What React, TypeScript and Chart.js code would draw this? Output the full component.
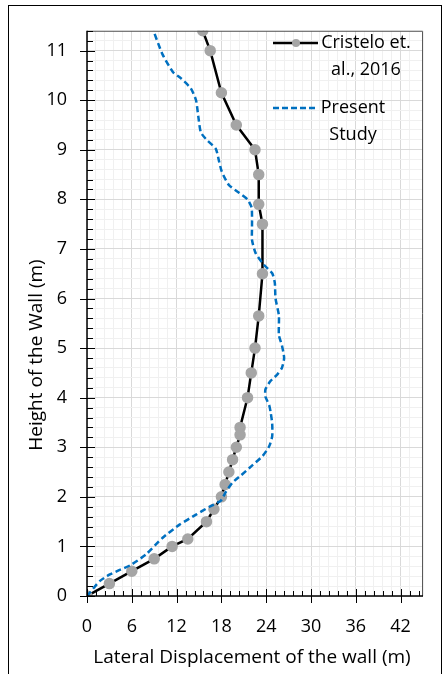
import React, { useEffect, useRef } from "react";
import { Chart, registerables } from "chart.js";

Chart.register(...registerables);

// Cristelo et al., 2016 — measured profile
const cristeloHeight = [0, 0.25, 0.5, 0.75, 1.0, 1.15, 1.5, 1.75, 2.0, 2.25, 2.5, 2.75, 3.0, 3.25, 3.4, 4.0, 4.5, 5.0, 5.65, 6.5, 7.5, 7.9, 8.5, 9.0, 9.5, 10.15, 11.0, 11.4];
const cristeloDisp = [0, 3, 6, 9, 11.4, 13.5, 16, 17, 18, 18.5, 19, 19.5, 20, 20.5, 20.5, 21.5, 22, 22.5, 23, 23.5, 23.5, 23, 23, 22.5, 20, 18, 16.5, 15.5];

// Present study — computed profile
const presentHeight = [0, 0.3, 0.43, 0.52, 0.62, 0.84, 1.17, 1.44, 1.64, 1.8, 1.92, 2.1, 2.29, 2.43, 2.63, 2.82, 3.02, 3.22, 3.48, 3.7, 3.85, 4.02, 4.17, 4.34, 4.47, 4.6, 4.8, 5.06, 5.26, 5.66, 6.0, 6.32, 6.51, 6.68, 6.91, 7.18, 7.44, 7.83, 8.0, 8.13, 8.29, 8.56, 8.76, 9.02, 9.19, 9.35, 9.68, 10.0, 10.24, 10.44, 10.57, 10.93, 11.4];
const presentDisp = [0, 1.7, 3.0, 4.3, 5.8, 7.9, 10.1, 12.4, 14.6, 16.4, 17.9, 18.6, 19.5, 20.6, 22.1, 23.5, 24.4, 24.8, 24.8, 24.6, 24.4, 23.9, 23.9, 24.6, 25.5, 26.1, 26.4, 26.1, 25.7, 25.7, 25.25, 25.15, 24.8, 23.7, 22.6, 22.1, 22.1, 22.05, 21.5, 20.4, 19.0, 18.05, 17.7, 17.25, 16.1, 15.25, 14.9, 14.6, 13.9, 12.6, 11.5, 10.1, 8.9];

const xTitle = "Lateral Displacement of the wall (m)";
const yTitle = "Height of the Wall (m)";
const legendLines = [["Cristelo et.", "al., 2016"], ["Present", "Study"]];

const FONT = '"Open Sans", sans-serif';
const BLUE = "#0070c0";
const MARKER = "#a5a5a5";

const toPoints = (xs: number[], ys: number[]) => xs.map((x, i) => ({ x, y: ys[i] }));
const near = (v: number, step: number) => Math.abs(v / step - Math.round(v / step)) < 1e-6;

// Axes, tick marks, titles and the in-plot legend
const decorations = {
  id: "decorations",
  afterDraw(chart: any) {
    const { ctx, chartArea: a, scales } = chart;
    const xs = scales.x;
    const ys = scales.y;
    ctx.save();

    // plot frame (top / right)
    ctx.strokeStyle = "#595959";
    ctx.lineWidth = 1;
    ctx.beginPath();
    ctx.moveTo(a.left, a.top + 0.5);
    ctx.lineTo(a.right - 0.5, a.top + 0.5);
    ctx.lineTo(a.right - 0.5, a.bottom);
    ctx.stroke();

    // axis lines
    ctx.strokeStyle = "#000";
    ctx.lineWidth = 1.5;
    ctx.beginPath();
    ctx.moveTo(a.left, a.top);
    ctx.lineTo(a.left, a.bottom);
    ctx.lineTo(a.right, a.bottom);
    ctx.stroke();

    // tick marks
    ctx.lineWidth = 1;
    ctx.beginPath();
    for (let k = 0; k <= 57; k++) {
      const v = k * 0.2;
      const py = Math.round(ys.getPixelForValue(v)) + 0.5;
      if (k % 5 === 0) {
        ctx.moveTo(a.left - 7, py);
        ctx.lineTo(a.left + 8, py);
      } else {
        ctx.moveTo(a.left, py);
        ctx.lineTo(a.left + 6, py);
      }
    }
    for (let k = 0; k <= 37; k++) {
      const v = k * 1.2;
      const px = Math.round(xs.getPixelForValue(v)) + 0.5;
      if (k % 5 === 0) {
        ctx.moveTo(px, a.bottom - 7);
        ctx.lineTo(px, a.bottom + 7);
      } else {
        ctx.moveTo(px, a.bottom - 5);
        ctx.lineTo(px, a.bottom);
      }
    }
    ctx.stroke();

    // axis titles
    ctx.fillStyle = "#000";
    ctx.font = `19px ${FONT}`;
    ctx.textAlign = "center";
    ctx.textBaseline = "middle";
    ctx.fillText(xTitle, 252, 658);
    ctx.save();
    ctx.translate(37, 355);
    ctx.rotate(-Math.PI / 2);
    ctx.fillText(yTitle, 0, 0);
    ctx.restore();

    // legend
    ctx.font = `18px ${FONT}`;
    ctx.lineWidth = 2.5;
    ctx.strokeStyle = "#000";
    ctx.beginPath();
    ctx.moveTo(273, 43);
    ctx.lineTo(318, 43);
    ctx.stroke();
    ctx.fillStyle = MARKER;
    ctx.beginPath();
    ctx.arc(296, 43, 4, 0, Math.PI * 2);
    ctx.fill();
    ctx.strokeStyle = BLUE;
    ctx.setLineDash([6, 3]);
    ctx.beginPath();
    ctx.moveTo(273, 108);
    ctx.lineTo(318, 108);
    ctx.stroke();
    ctx.setLineDash([]);
    ctx.fillStyle = "#000";
    ctx.fillText(legendLines[0][0], 366, 43);
    ctx.fillText(legendLines[0][1], 366, 70);
    ctx.fillText(legendLines[1][0], 353, 108);
    ctx.fillText(legendLines[1][1], 353, 135);

    ctx.restore();
  },
};

export default function App() {
  const ref = useRef<HTMLCanvasElement>(null);

  useEffect(() => {
    if (!ref.current) return;
    const chart = new Chart(ref.current, {
      type: "scatter",
      data: {
        datasets: [
          {
            label: "Cristelo et. al., 2016",
            data: toPoints(cristeloDisp, cristeloHeight),
            showLine: true,
            borderColor: "#000",
            borderWidth: 2.5,
            pointBackgroundColor: MARKER,
            pointBorderColor: MARKER,
            pointRadius: 4.5,
            tension: 0,
            order: 1,
          },
          {
            label: "Present Study",
            data: toPoints(presentDisp, presentHeight),
            showLine: true,
            borderColor: BLUE,
            borderWidth: 2.5,
            borderDash: [6, 3.5],
            pointRadius: 0,
            tension: 0.2,
            order: 0,
          },
        ],
      },
      options: {
        responsive: false,
        animation: false,
        events: [],
        layout: { padding: { top: 20, right: 19, left: 0, bottom: 0 } },
        plugins: { legend: { display: false }, tooltip: { enabled: false } },
        scales: {
          x: {
            type: "linear",
            min: 0,
            max: 45,
            border: { display: false },
            grid: {
              drawTicks: false,
              color: (c: any) => (near(c.tick.value, 6) ? "#d9d9d9" : "#f0f0f0"),
              lineWidth: 1,
            },
            ticks: {
              stepSize: 1.2,
              maxTicksLimit: 100,
              autoSkip: false,
              maxRotation: 0,
              padding: 20,
              color: "#000",
              font: { family: FONT, size: 18 },
              callback: (v: any) => (near(Number(v), 6) ? String(Math.round(Number(v))) : ""),
            },
            afterFit: (s: any) => {
              s.height = 78;
            },
          },
          y: {
            type: "linear",
            min: 0,
            max: 11.4,
            border: { display: false },
            grid: {
              drawTicks: false,
              color: (c: any) => (near(c.tick.value, 1) ? "#d9d9d9" : "#f0f0f0"),
              lineWidth: 1,
            },
            ticks: {
              stepSize: 0.2,
              maxTicksLimit: 100,
              autoSkip: false,
              padding: 20,
              color: "#000",
              font: { family: FONT, size: 18 },
              callback: (v: any) => (near(Number(v), 1) ? String(Math.round(Number(v))) : ""),
            },
            afterFit: (s: any) => {
              s.width = 87;
            },
          },
        },
      },
      plugins: [decorations],
    });
    return () => chart.destroy();
  }, []);

  return (
    <div style={{ position: "fixed", left: 0, top: 0, width: 443, height: 674, background: "#fff" }}>
      <canvas ref={ref} width={443} height={674} style={{ position: "absolute", left: 0, top: 0 }} />
      <div
        style={{
          position: "absolute",
          left: 8,
          top: 5,
          width: 432,
          height: 700,
          borderTop: "1px solid #000",
          borderLeft: "1px solid #000",
          borderRight: "1px solid #000",
          pointerEvents: "none",
        }}
      />
    </div>
  );
}
